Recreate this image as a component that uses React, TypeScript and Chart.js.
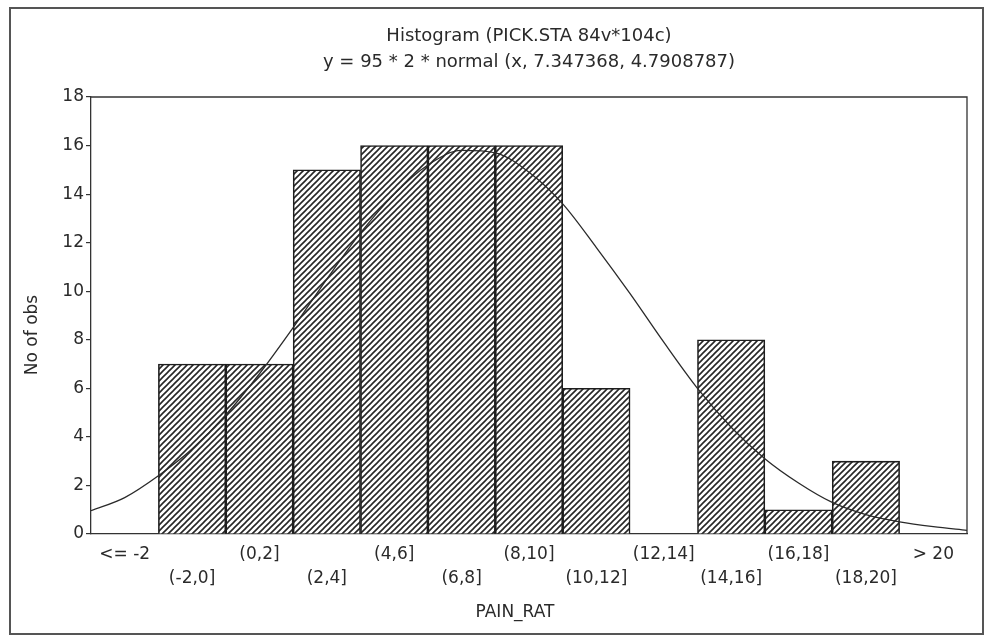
import React, { useEffect, useRef } from 'react';
import { Chart, registerables } from 'chart.js';

Chart.register(...registerables);

// ---- data ----
const categories = ['<= -2', '(-2,0]', '(0,2]', '(2,4]', '(4,6]', '(6,8]', '(8,10]', '(10,12]', '(12,14]', '(14,16]', '(16,18]', '(18,20]', '> 20'];
const counts = [0, 7, 7, 15, 16, 16, 16, 6, 0, 8, 1, 3, 0];
const yTickValues = [0, 2, 4, 6, 8, 10, 12, 14, 16, 18];
// fitted normal curve at integer x positions
const curveX = [-4, -3, -2, -1, 0, 1, 2, 3, 4, 5, 6, 7, 8, 9, 10, 11, 12, 13, 14, 15, 16, 17, 18, 19, 20, 21, 22];
const curveY = [0.96, 1.5, 2.4, 3.5, 4.9, 6.6, 8.5, 10.5, 12.4, 14.0, 15.2, 15.8, 15.7, 14.9, 13.6, 11.8, 9.9, 7.9, 6.0, 4.4, 3.1, 2.1, 1.3, 0.8, 0.5, 0.3, 0.15];
const titleLine1 = 'Histogram (PICK.STA 84v*104c)';
const titleLine2 = 'y = 95 * 2 * normal (x, 7.347368, 4.7908787)';
const xTitle = 'PAIN_RAT';
const yTitle = 'No of obs';

const FONT = '"DejaVu Sans", "Liberation Sans", sans-serif';
const INK = '#2a2a2a';

function makeHatch(): CanvasPattern | string {
  const s = 6;
  const c = document.createElement('canvas');
  c.width = s;
  c.height = s;
  const g = c.getContext('2d');
  if (!g) return '#888';
  g.fillStyle = '#ffffff';
  g.fillRect(0, 0, s, s);
  g.strokeStyle = '#262626';
  g.lineWidth = 1.6;
  g.beginPath();
  g.moveTo(-1, s + 1);
  g.lineTo(s + 1, -1);
  g.moveTo(-1, 1);
  g.lineTo(1, -1);
  g.moveTo(s - 1, s + 1);
  g.lineTo(s + 1, s - 1);
  g.stroke();
  const p = g.createPattern(c, 'repeat');
  return p || '#888';
}

const textPlugin = {
  id: 'textPlugin',
  afterDraw(chart: any) {
    const { ctx, chartArea } = chart;
    const cx = (chartArea.left + chartArea.right) / 2;
    ctx.save();
    // box around plot
    ctx.strokeStyle = '#333';
    ctx.lineWidth = 1.3;
    ctx.beginPath();
    ctx.moveTo(chartArea.left, chartArea.top);
    ctx.lineTo(chartArea.right, chartArea.top);
    ctx.lineTo(chartArea.right, chartArea.bottom);
    ctx.stroke();
    ctx.fillStyle = INK;
    ctx.textAlign = 'center';
    ctx.textBaseline = 'middle';
    ctx.font = `18px ${FONT}`;
    ctx.fillText(titleLine1, cx, 36);
    ctx.fillText(titleLine2, cx, 62);
    ctx.font = `17px ${FONT}`;
    ctx.fillText(xTitle, 515, 613);
    ctx.translate(33, 335);
    ctx.rotate(-Math.PI / 2);
    ctx.fillText(yTitle, 0, 0);
    ctx.restore();
  },
};

export default function App() {
  const ref = useRef<HTMLCanvasElement | null>(null);

  useEffect(() => {
    if (!ref.current) return;
    const hatch = makeHatch();
    const chart = new Chart(ref.current, {
      type: 'bar',
      data: {
        labels: categories,
        datasets: [
          {
            type: 'bar',
            data: counts,
            xAxisID: 'x',
            yAxisID: 'y',
            backgroundColor: hatch as any,
            borderColor: '#1e1e1e',
            borderWidth: 1.6,
            barPercentage: 1,
            categoryPercentage: 1,
            grouped: false,
            order: 2,
          } as any,
          {
            type: 'line',
            data: curveX.map((x, i) => ({ x, y: curveY[i] })),
            xAxisID: 'x2',
            yAxisID: 'y',
            borderColor: '#2a2a2a',
            borderWidth: 1.3,
            pointRadius: 0,
            tension: 0.4,
            cubicInterpolationMode: 'monotone',
            fill: false,
            order: 1,
          } as any,
        ],
      },
      options: {
        responsive: false,
        animation: false,
        events: [],
        layout: { padding: { top: 97, right: 19, bottom: 0, left: 0 } },
        plugins: {
          legend: { display: false },
          tooltip: { enabled: false },
          title: { display: false },
        },
        scales: {
          x: {
            type: 'category',
            offset: true,
            grid: { display: false, drawTicks: false },
            border: { display: true, color: '#333', width: 1.3 },
            ticks: {
              autoSkip: false,
              maxRotation: 0,
              minRotation: 0,
              padding: 9,
              color: INK,
              font: { family: FONT, size: 17, lineHeight: 1.4 },
              callback: (_v: any, i: number) => (i % 2 === 0 ? categories[i] : ['', categories[i]]),
            },
            afterFit: (s: any) => {
              s.height = 102;
            },
          },
          x2: {
            type: 'linear',
            display: false,
            offset: false,
            grid: { offset: false },
            min: -4,
            max: 22,
          },
          y: {
            min: 0,
            max: 18,
            grid: { drawOnChartArea: false, drawTicks: true, tickLength: 5, color: '#333', lineWidth: 1.2 },
            border: { display: true, color: '#333', width: 1.3 },
            ticks: {
              padding: 2,
              color: INK,
              font: { family: FONT, size: 17 },
            },
            afterBuildTicks: (s: any) => {
              s.ticks = yTickValues.map((v) => ({ value: v }));
            },
            afterFit: (s: any) => {
              s.width = 91;
            },
          },
        } as any,
      },
      plugins: [textPlugin],
    });
    return () => chart.destroy();
  }, []);

  return (
    <div style={{ position: 'absolute', left: 0, top: 0, width: 986, height: 636, background: '#fff' }}>
      <canvas ref={ref} width={986} height={636} style={{ width: 986, height: 636, display: 'block' }} />
      <div
        style={{
          position: 'absolute',
          left: 9,
          top: 7,
          width: 975,
          height: 628,
          boxSizing: 'border-box',
          border: '2px solid #555',
          pointerEvents: 'none',
        }}
      />
    </div>
  );
}
